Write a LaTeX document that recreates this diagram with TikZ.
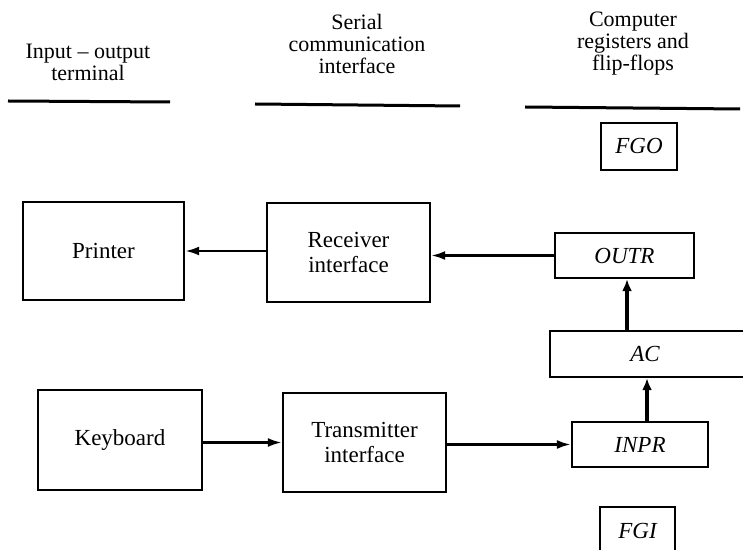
\documentclass[tikz,border=0pt]{standalone}
\usepackage{fontspec}
\setmainfont{Liberation Serif}
\usetikzlibrary{arrows.meta}
\begin{document}
\begin{tikzpicture}[x=0.5pt,y=-0.5pt,
  every node/.style={font=\fontsize{11.5}{12.5}\selectfont},
  blockbox/.style={draw,line width=1.2pt,inner sep=0pt,align=center},
  regbox/.style={draw,line width=1.2pt,inner sep=0pt,font=\fontsize{11.5}{12.5}\selectfont\itshape},
  hdr/.style={align=center,font=\fontsize{11}{11}\selectfont,inner sep=0pt},
  hline/.style={line width=1.5pt},
  arr/.style={line width=1.2pt,-{Latex[length=7pt,width=4.5pt]}},
  varr/.style={line width=1.6pt,-{Latex[length=6pt,width=5pt]}}]
\useasboundingbox (0,0) rectangle (743,550);
% headers
\node[hdr] (h1) at (88,62) {Input -- output\\terminal};
\node[hdr] (h2) at (357,44) {Serial\\communication\\interface};
\node[hdr] (h3) at (633,44) {Computer\\registers and\\flip-flops};
\coordinate (l1a) at (8,101); \coordinate (l1b) at (170,102);
\coordinate (l2a) at (255,104); \coordinate (l2b) at (460,106);
\coordinate (l3a) at (525,107); \coordinate (l3b) at (740,109);
\draw[hline] (l1a) -- (l1b);
\draw[hline] (l2a) -- (l2b);
\draw[hline] (l3a) -- (l3b);
% blocks
\node[blockbox,minimum width=80.5pt,minimum height=49pt] (printer) at (103.5,251) {Printer};
\node[blockbox,minimum width=81.5pt,minimum height=49.5pt] (recv) at (348.5,252.5) {Receiver\\interface};
\node[blockbox,minimum width=82pt,minimum height=50pt] (kbd) at (120,440) {Keyboard};
\node[blockbox,minimum width=81.5pt,minimum height=49.5pt] (trans) at (364.5,442.5) {Transmitter\\interface};
% registers
\node[regbox,minimum width=38pt,minimum height=23.5pt] (fgo) at (639,146.5) {FGO};
\node[regbox,minimum width=69.5pt,minimum height=22.5pt] (outr) at (624.5,255.5) {OUTR};
\node[regbox,minimum width=110pt,minimum height=23pt] (ac) at (660,354) {};
\node[font=\fontsize{11.5}{12.5}\selectfont\itshape] (actext) at (645,354) {AC};
\node[regbox,minimum width=68pt,minimum height=22.5pt] (inpr) at (640,444.5) {INPR};
\node[regbox,minimum width=37.5pt,minimum height=23.5pt] (fgi) at (637.5,530.5) {FGI};
% connectors
\draw[arr] (recv.west |- printer.east) -- (printer.east);
\draw[arr] (outr.west) -- (outr.west -| recv.east);
\draw[arr] (kbd.east |- trans.west) -- (trans.west);
\draw[arr] (trans.east |- inpr.west) -- (inpr.west);
\draw[varr] ([xshift=1.25pt]outr.south |- ac.north) -- ([xshift=1.25pt]outr.south);
\draw[varr] ([xshift=3.5pt]inpr.north) -- ([xshift=3.5pt]inpr.north |- ac.south);
\end{tikzpicture}
\end{document}
